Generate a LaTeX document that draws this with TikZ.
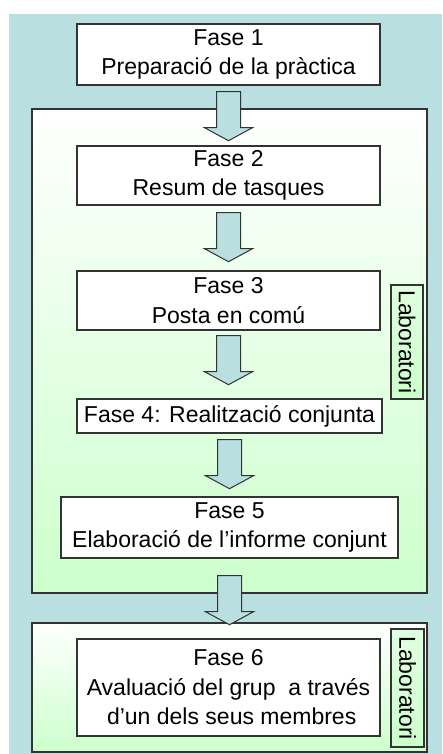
\documentclass[tikz,border=0pt]{standalone}
\usepackage{fontspec}
\setmainfont{Liberation Sans}
\usepackage{tikz}
\usetikzlibrary{positioning, calc}
\definecolor{skyback}{HTML}{B9DFE1}
\definecolor{labgreen}{HTML}{CCFFCC}
\definecolor{edgegray}{HTML}{333333}
\newcommand{\phasefont}{\fontsize{23}{29.5}\selectfont}
\tikzset{
    x=1pt, y=-1pt, % pixel-like units, y runs downwards
    phase/.style={draw=edgegray, line width=1.4pt, fill=white, align=center,
        font=\phasefont, inner sep=0pt, minimum width=303, minimum height=59}, % every phase box
    zone/.style={draw=edgegray, line width=1.4pt, top color=white,
        bottom color=labgreen}, % the green frames
    labtag/.style={draw=edgegray, line width=1.4pt, top color=labgreen!60,
        bottom color=labgreen, font=\phasefont, inner sep=0pt,
        minimum width=114, minimum height=32, rotate=-90}, % side label
    bigarrow/.style={draw=edgegray, line width=1pt, fill=skyback, line join=miter}, % block arrows
}
% block arrow hanging below a node: #1 node, #2 gap
\newcommand{\blockarrow}[2]{
    \draw[bigarrow] ($(#1.south)+(-12,#2)$) -- ++(0,36) -- ++(-12,0)
        -- ++(24,13) -- ++(24,-13) -- ++(-12,0) -- ++(0,-36) -- cycle;
}

\begin{document}
\begin{tikzpicture}
    \useasboundingbox (0,0) rectangle (442,754);
    \fill[skyback] (9,14) rectangle (442,754);

    % frames
    \draw[zone] (32,109) rectangle (427,593);
    \draw[zone] (32,623) rectangle (427,752);
    \node[labtag] (lab1) at (407,342) {Laboratori};
    \node[labtag, minimum width=118, minimum height=33] (lab2) at (407.5,688) {Laboratori};

    % phases
    \node[phase, minimum height=61] (f1) at (228.5,54.5) {Fase 1\\Preparació de la pràctica};
    \node[phase] (f2) at (228.5,175.5) {Fase 2\\Resum de tasques};
    \node[phase] (f3) at (228.5,300.5) {Fase 3\\Posta en comú};
    \node[phase, minimum width=305, minimum height=34] (f4) at (229.5,416) {Fase 4: Realització conjunta};
    \node[phase, minimum width=337, minimum height=61] (f5) at (229.5,527.5) {Fase 5\\Elaboració de l’informe conjunt};
    \node[phase, minimum height=97] (f6) at (228.5,687.5) {Fase 6\\Avaluació del grup\ \ a través\\\ d’un dels seus membres};

    % arrows between phases
    \blockarrow{f1}{6}
    \blockarrow{f2}{7}
    \blockarrow{f3}{5}
    \blockarrow{f4}{6}
    \blockarrow{f5}{17}
\end{tikzpicture}
\end{document}
